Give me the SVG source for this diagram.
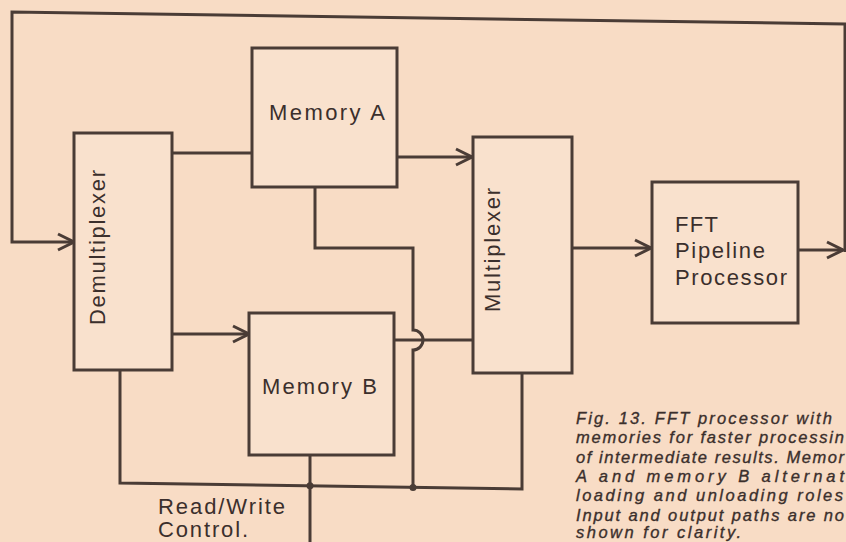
<svg xmlns="http://www.w3.org/2000/svg" width="846" height="542" viewBox="0 0 846 542">
<defs>
<style>
.bg{fill:#f8dcc5}
.box{fill:#f9e1cd;stroke:#4a3c36;stroke-width:3}
.ln{fill:none;stroke:#4a3c36;stroke-width:3;stroke-linejoin:miter}
.lbl{font-family:"Liberation Sans",Arial,sans-serif;font-size:22px;fill:#3b2f2c}
.cap{font-family:"Liberation Sans",Arial,sans-serif;font-size:16.5px;font-style:italic;fill:#3b2f2c;stroke:#3b2f2c;stroke-width:0.35}
.dot{fill:#4a3c36}
</style>
<marker id="arr" markerUnits="userSpaceOnUse" viewBox="-2 -2 20 20" markerWidth="20" markerHeight="20" refX="16" refY="8" orient="auto">
<path d="M0,0 L16,8 L0,16" fill="none" stroke="#4a3c36" stroke-width="3"/>
</marker>
</defs>
<rect class="bg" x="0" y="0" width="846" height="542"/>

<g id="connectors">
<path class="ln" d="M798,250 H843" marker-end="url(#arr)"/>
<path class="ln" d="M845,252 V24 L12,12 V242 H74" marker-end="url(#arr)"/>
<path class="ln" d="M172,153 H252"/>
<path class="ln" d="M397,157 H472" marker-end="url(#arr)"/>
<path class="ln" d="M172,334 H249" marker-end="url(#arr)"/>
<path class="ln" d="M394,340 H473"/>
<path class="ln" d="M315,187 V248 H413 V330 A10,10 0 0 1 413,350 V487"/>
<path class="ln" d="M572,248 H651" marker-end="url(#arr)"/>
<path class="ln" d="M120,370 V483 L522,489 V373"/>
<path class="ln" d="M310,455 V542"/>
<circle class="dot" cx="310" cy="485.8" r="3.5"/>
<circle class="dot" cx="413" cy="487.4" r="3.5"/>
</g>

<g id="demultiplexer">
<rect class="box" x="74" y="133" width="98" height="237"/>
<text class="lbl" transform="translate(105,325) rotate(-90)" textLength="155" lengthAdjust="spacing">Demultiplexer</text>
</g>

<g id="memory-a">
<rect class="box" x="252" y="48" width="145" height="139"/>
<text class="lbl" x="269" y="120" textLength="116" lengthAdjust="spacing">Memory A</text>
</g>

<g id="memory-b">
<rect class="box" x="249" y="313" width="145" height="142"/>
<text class="lbl" x="262" y="394" textLength="115" lengthAdjust="spacing">Memory B</text>
</g>

<g id="multiplexer">
<rect class="box" x="473" y="137" width="99" height="236"/>
<text class="lbl" transform="translate(500,312) rotate(-90)" textLength="124" lengthAdjust="spacing">Multiplexer</text>
</g>

<g id="fft">
<rect class="box" x="652" y="182" width="146" height="141"/>
<text class="lbl" x="675" y="232" textLength="43" lengthAdjust="spacing">FFT</text>
<text class="lbl" x="675" y="258" textLength="90" lengthAdjust="spacing">Pipeline</text>
<text class="lbl" x="675" y="285" textLength="112" lengthAdjust="spacing">Processor</text>
</g>

<g id="rw-label">
<text class="lbl" x="158" y="514" textLength="127" lengthAdjust="spacing">Read/Write</text>
<text class="lbl" x="158" y="537" textLength="90" lengthAdjust="spacing">Control.</text>
</g>

<g id="caption">
<text class="cap" x="576" y="424" textLength="256" lengthAdjust="spacing">Fig. 13. FFT processor with</text>
<text class="cap" x="576" y="443" textLength="268" lengthAdjust="spacing">memories for faster processin</text>
<text class="cap" x="576" y="462.5" textLength="268" lengthAdjust="spacing">of intermediate results. Memor</text>
<text class="cap" x="576" y="482" textLength="268" lengthAdjust="spacing">A  and  memory  B  alternat</text>
<text class="cap" x="576" y="501" textLength="267" lengthAdjust="spacing">loading  and  unloading  roles</text>
<text class="cap" x="576" y="520.5" textLength="268" lengthAdjust="spacing">Input and output paths are no</text>
<text class="cap" x="576" y="538" textLength="165" lengthAdjust="spacing">shown for clarity.</text>
</g>
</svg>
